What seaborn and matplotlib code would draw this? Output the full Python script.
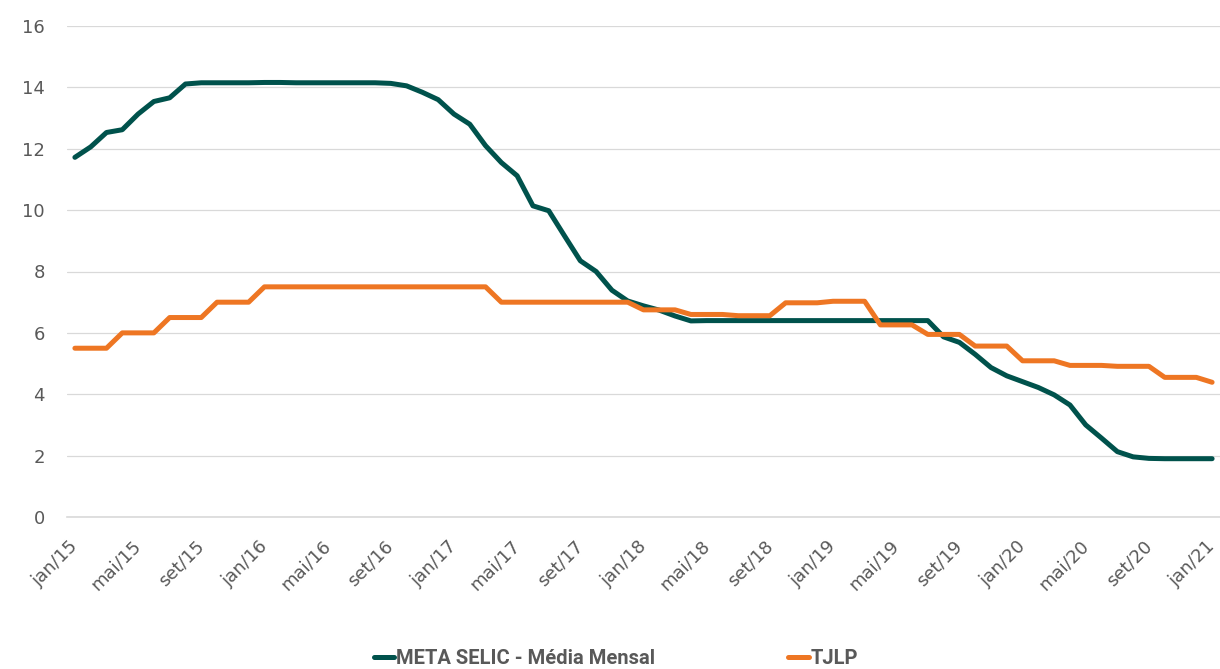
import numpy as np
import pandas as pd
import seaborn as sns
import matplotlib.pyplot as plt

# monthly values, jan/15 .. jan/21
selic = [11.72, 12.06, 12.53, 12.62, 13.13, 13.54, 13.66, 14.11,
         14.15, 14.15, 14.15, 14.15, 14.16, 14.16, 14.15, 14.15, 14.15, 14.15, 14.15, 14.15,
         14.13, 14.05, 13.84, 13.60, 13.13, 12.80, 12.10, 11.55, 11.12, 10.14,
         9.98, 9.16, 8.35, 8.00, 7.39, 7.04, 6.88, 6.74, 6.55, 6.39,
         6.40, 6.40, 6.40, 6.40, 6.40, 6.40, 6.40, 6.40, 6.40, 6.40, 6.40, 6.40, 6.40, 6.40, 6.40,
         5.87, 5.69, 5.30, 4.87, 4.60, 4.41, 4.22, 3.98, 3.65, 3.00, 2.57, 2.13, 1.96,
         1.91, 1.90, 1.90, 1.90, 1.90]

tjlp = [5.50, 5.50, 5.50, 6.00, 6.00, 6.00, 6.50, 6.50, 6.50, 7.00, 7.00, 7.00,
        7.50, 7.50, 7.50, 7.50, 7.50, 7.50, 7.50, 7.50, 7.50, 7.50, 7.50, 7.50, 7.50, 7.50, 7.50,
        7.00, 7.00, 7.00, 7.00, 7.00, 7.00, 7.00, 7.00, 7.00,
        6.75, 6.75, 6.75, 6.60, 6.60, 6.60, 6.56, 6.56, 6.56, 6.98, 6.98, 6.98,
        7.03, 7.03, 7.03, 6.26, 6.26, 6.26, 5.95, 5.95, 5.95, 5.57, 5.57, 5.57,
        5.09, 5.09, 5.09, 4.94, 4.94, 4.94, 4.91, 4.91, 4.91, 4.55, 4.55, 4.55,
        4.39]

tick_labels = ["jan/15", "mai/15", "set/15", "jan/16", "mai/16", "set/16",
               "jan/17", "mai/17", "set/17", "jan/18", "mai/18", "set/18",
               "jan/19", "mai/19", "set/19", "jan/20", "mai/20", "set/20", "jan/21"]

series_names = ["META SELIC - Média Mensal", "TJLP"]
colors = ["#00524C", "#EE7623"]

def main():
    n = len(selic)
    df = pd.DataFrame({
        "mes": list(range(n)) * 2,
        "valor": selic + tjlp,
        "serie": [series_names[0]] * n + [series_names[1]] * n,
    })

    sns.set_style("white")
    plt.rcParams['font.family'] = ['DejaVu Sans']

    fig = plt.figure(figsize=(12.2, 6.69), dpi=100)
    ax = fig.add_axes([67 / 1220, 152 / 669, 1153 / 1220, 491 / 669])

    sns.lineplot(data=df, x="mes", y="valor", hue="serie",
                 palette=dict(zip(series_names, colors)),
                 linewidth=3.6, ax=ax, legend=False)

    ax.set_xlim(-0.5, n - 0.5)
    ax.set_ylim(0, 16)
    ax.set_yticks(range(0, 17, 2))
    ax.set_xticks(range(0, n, 4))
    ax.set_xticklabels(tick_labels, rotation=45, ha="right", va="center",
                       rotation_mode="anchor")
    ax.tick_params(axis="both", labelsize=13, colors="#595959", length=0)
    ax.tick_params(axis="x", pad=19)
    ax.tick_params(axis="y", pad=16)
    ax.set_xlabel("")
    ax.set_ylabel("")

    ax.grid(axis="y", color="#d9d9d9", linewidth=0.9)
    ax.set_axisbelow(True)
    for side in ["top", "right", "left"]:
        ax.spines[side].set_visible(False)
    ax.spines["bottom"].set_color("#d9d9d9")
    ax.spines["bottom"].set_linewidth(1.2)

    handles = [plt.Line2D([], [], color=c, linewidth=3.6, solid_capstyle="round") for c in colors]
    fig.legend(handles, series_names, loc="center", bbox_to_anchor=(0.505, 0.015),
               ncol=2, frameon=False, handlelength=1.0, handletextpad=0.1,
               columnspacing=6.6,
               prop={"family": ["Roboto", "DejaVu Sans"],
                     "size": 14.5, "weight": "bold"},
               labelcolor="#595959")

    fig.savefig("out.png", dpi=100)

if __name__ == "__main__":
    main()
